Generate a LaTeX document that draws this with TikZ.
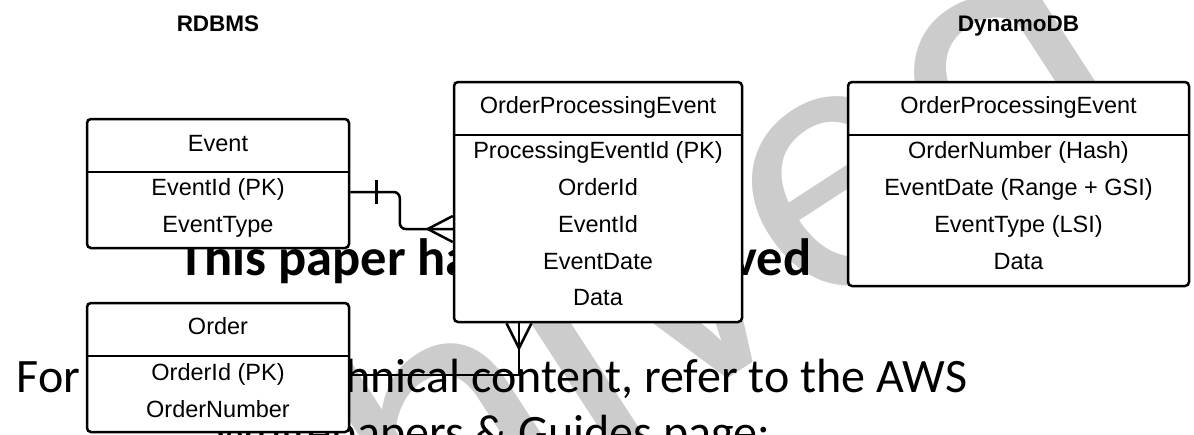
\documentclass[tikz,border=0pt]{standalone}
\usepackage{fontspec}
\newfontfamily\boxfont{Liberation Sans}
\newfontfamily\bgfont{Carlito}
\begin{document}
\begin{tikzpicture}[x=1pt,y=-1pt,
  entity/.style={draw=black, line width=2.5pt, rounded corners=4pt, fill=white, inner sep=0pt},
  divider/.style={line width=2.5pt},
  lbl/.style={font=\boxfont\fontsize{23.5}{28}\selectfont, anchor=base, inner sep=0pt},
  hdr/.style={font=\boxfont\bfseries\fontsize{22.5}{27}\selectfont, anchor=base, inner sep=0pt},
  conn/.style={line width=2.5pt, black},
  bgbold/.style={font=\bgfont\bfseries\fontsize{52.5}{60}\selectfont, anchor=base, inner sep=0pt},
  bgtext/.style={font=\bgfont\fontsize{48}{58}\selectfont, anchor=base, inner sep=0pt},
  wm/.style={font=\bgfont\fontsize{390}{390}\selectfont, text=black!20, anchor=base west, inner sep=0pt, rotate=33}
]
\useasboundingbox (0,0) rectangle (1194,434);
\fill[white] (0,0) rectangle (1194,434);

% watermark
\node[wm] (wmark) at (-18,863) {Archived};

% background notice text
\node[bgbold] (bg1) at (495,275) {This paper has been archived};
\node[bgtext] (bg2) at (492,392) {For the latest technical content, refer to the AWS};
\node[bgtext] (bg3) at (492,448) {Whitepapers \& Guides page:};

% titles
\node[hdr] (rdbms) at (218,31) {RDBMS};
\node[hdr] (dynamo) at (1018.5,31) {DynamoDB};

% Event
\node[entity, minimum width=262pt, minimum height=129pt] (event) at (218,183.5) {};
\draw[divider] (event.west |- 0,172) -- (event.east |- 0,172);
\node[lbl] (evhead) at (218,151) {Event};
\node[lbl] (evid) at (218,195) {EventId (PK)};
\node[lbl] (evtype) at (218,232) {EventType};

% Order
\node[entity, minimum width=262pt, minimum height=129pt] (order) at (218,367.5) {};
\draw[divider] (order.west |- 0,356) -- (order.east |- 0,356);
\node[lbl] (ordhead) at (218,334) {Order};
\node[lbl] (ordid) at (218,380) {OrderId (PK)};
\node[lbl] (ordnum) at (218,417) {OrderNumber};

% OrderProcessingEvent (RDBMS)
\node[entity, minimum width=288pt, minimum height=240pt] (ope) at (598,202) {};
\draw[divider] (ope.west |- 0,135) -- (ope.east |- 0,135);
\node[lbl] (opehead) at (598,113) {OrderProcessingEvent};
\node[lbl] (opepk) at (598,158) {ProcessingEventId (PK)};
\node[lbl] (opeord) at (598,195) {OrderId};
\node[lbl] (opeev) at (598,232) {EventId};
\node[lbl] (opedate) at (598,269) {EventDate};
\node[lbl] (opedata) at (598,305) {Data};

% OrderProcessingEvent (DynamoDB)
\node[entity, minimum width=341pt, minimum height=204pt] (ddb) at (1018.5,184) {};
\draw[divider] (ddb.west |- 0,135) -- (ddb.east |- 0,135);
\node[lbl] (ddbhead) at (1018.5,113) {OrderProcessingEvent};
\node[lbl] (ddbhash) at (1018.5,158) {OrderNumber (Hash)};
\node[lbl] (ddbrange) at (1018.5,195) {EventDate (Range + GSI)};
\node[lbl] (ddblsi) at (1018.5,232) {EventType (LSI)};
\node[lbl] (ddbdata) at (1018.5,269) {Data};

% Event -> OrderProcessingEvent (one to many)
\coordinate (ea) at ([yshift=-8.5pt]event.east);
\coordinate (eb) at ([yshift=-27pt]ope.west);
\draw[conn, rounded corners=6pt] (ea) -| ([xshift=-53pt]eb) -- (eb);
\draw[conn] ([xshift=26pt,yshift=12pt]ea) -- ([xshift=26pt,yshift=-12pt]ea);
\draw[conn] ([yshift=13pt]eb) -- ([xshift=-25pt]eb) -- ([yshift=-13pt]eb);

% Order -> OrderProcessingEvent (many)
\coordinate (oa) at ([yshift=-7.5pt]order.east);
\coordinate (ob) at ([xshift=-79pt]ope.south);
\draw[conn] (oa) -| (ob);
\draw[conn] ([xshift=-12.5pt]ob) -- ([yshift=-25pt]ob) -- ([xshift=12.5pt]ob);
\end{tikzpicture}
\end{document}
